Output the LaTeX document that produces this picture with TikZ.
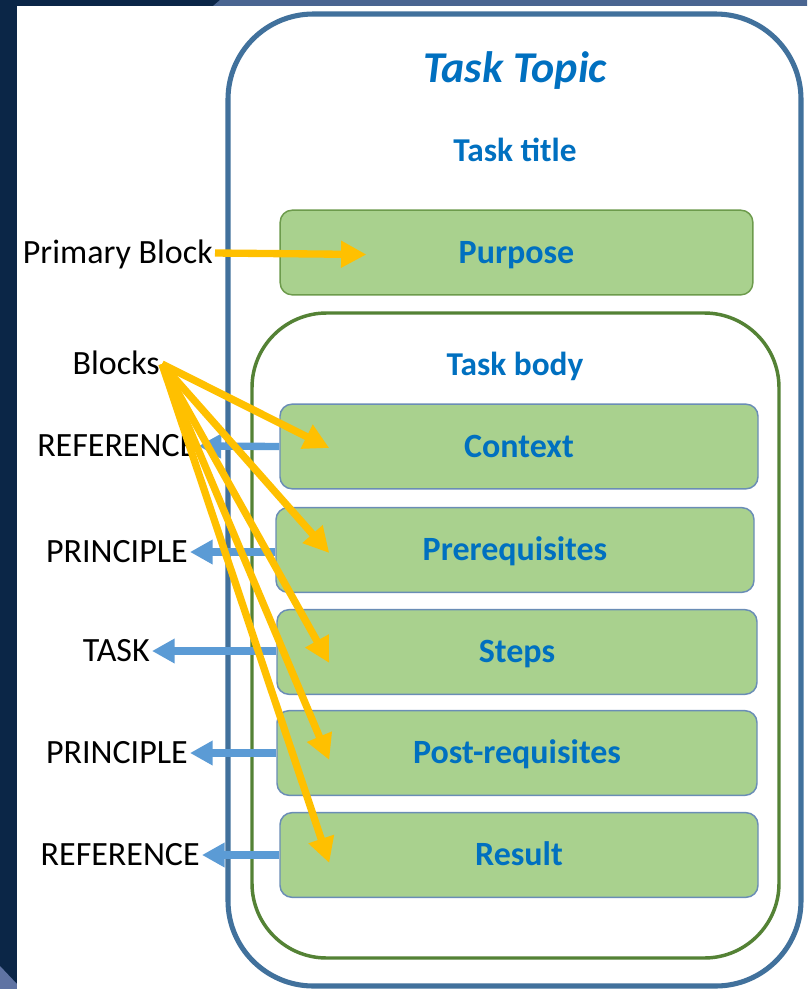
\documentclass[tikz,border=0pt]{standalone}
\usepackage{fontspec}
\setmainfont{Carlito}
\usetikzlibrary{arrows.meta}

\definecolor{navy}{HTML}{0B2647}
\definecolor{slate}{HTML}{4A6591}
\definecolor{dusk}{HTML}{5F73A3}
\definecolor{topicblue}{HTML}{0070C0}
\definecolor{outerblue}{HTML}{41719C}
\definecolor{bodygreen}{HTML}{548235}
\definecolor{boxfill}{HTML}{A9D18E}
\definecolor{boxedge}{HTML}{6A8DB6}
\definecolor{purposeedge}{HTML}{6D9B4C}
\definecolor{amber}{HTML}{FFC000}
\definecolor{skyblue}{HTML}{5B9BD5}

\tikzset{
  block/.style={draw=boxedge, line width=1.1pt, fill=boxfill, rounded corners=9pt,
    minimum height=63.5pt, text=topicblue, text height=16.4pt, text depth=0pt,
    font=\fontsize{25.5}{30}\selectfont\bfseries},
  heading/.style={text=topicblue, text height=16.2pt, text depth=0pt,
    font=\fontsize{25}{30}\selectfont\bfseries},
  side/.style={inner sep=1.5pt, text height=16.4pt, text depth=0pt,
    font=\fontsize{25.5}{30}\selectfont},
  pointer/.style={draw=amber, line width=5.5pt, -{Triangle[length=19pt,width=19pt]}},
  backref/.style={draw=skyblue, line width=5.5pt, -{Triangle[length=17pt,width=17.5pt]}},
}

\begin{document}
\begin{tikzpicture}[x=0.75pt, y=-0.75pt]
\useasboundingbox (0,0) rectangle (807,989);

\fill[navy] (0,0) rectangle (807,989);
\fill[slate] (213,6) -- (220,0) -- (807,0) -- (807,6) -- cycle;
\fill[dusk] (0,966) -- (17,984) -- (17,989) -- (0,989) -- cycle;
\fill[white] (17,6) rectangle (807,989);

% topic frame and task body
\draw[outerblue, line width=3.8pt, rounded corners=64pt] (228,14) rectangle (801,986);
\draw[bodygreen, line width=2.6pt, rounded corners=56pt] (252,313) rectangle (779,958);

\node[heading, text height=21.2pt, font=\fontsize{33}{38}\selectfont\bfseries\itshape] (topic) at (515,68) {Task Topic};
\node[heading] (title) at (515,151) {Task title};
\node[heading] (body) at (515,365) {Task body};

\node[block, draw=purposeedge, minimum width=354.5pt] (purpose) at (516.5,252.5) {Purpose};
\node[block, minimum width=358.5pt] (context) at (519,446.5) {Context};
\node[block, minimum width=358.5pt] (prereq) at (515,550) {Prerequisites};
\node[block, minimum width=360pt] (steps) at (517,652) {Steps};
\node[block, minimum width=360pt] (postreq) at (517,753) {Post-requisites};
\node[block, minimum width=358.5pt] (result) at (519,855) {Result};

\node[side, anchor=east] (primary) at (215,253) {Primary Block};
\node[side, anchor=east] (blocks) at (162,364) {Blocks};
\node[side, anchor=west] (ref1) at (35,446) {REFERENCE};
\node[side, anchor=east] (princ1) at (190,552) {PRINCIPLE};
\node[side, anchor=east] (task) at (152,651) {TASK};
\node[side, anchor=east] (princ2) at (190,753) {PRINCIPLE};
\node[side, anchor=east] (ref2) at (202,855) {REFERENCE};

\draw[backref] (context.west) -- (ref1.east);
\draw[backref] (prereq.west |- princ1) -- (princ1.east);
\draw[backref] (steps.west |- task) -- (task.east);
\draw[backref] (postreq.west |- princ2) -- (princ2.east);
\draw[backref] (result.west) -- (ref2.east);

\draw[pointer] (primary.east) -- ([shift={(87,2)}]purpose.west);
\draw[pointer] (blocks.east) -- ([shift={(50,1.5)}]context.west);
\draw[pointer] (blocks.east) -- ([shift={(54,3)}]prereq.west);
\draw[pointer] (blocks.east) -- ([shift={(53,11)}]steps.west);
\draw[pointer] (blocks.east) -- ([shift={(53,7)}]postreq.west);
\draw[pointer] (blocks.east) -- ([shift={(50,8)}]result.west);

\end{tikzpicture}
\end{document}
